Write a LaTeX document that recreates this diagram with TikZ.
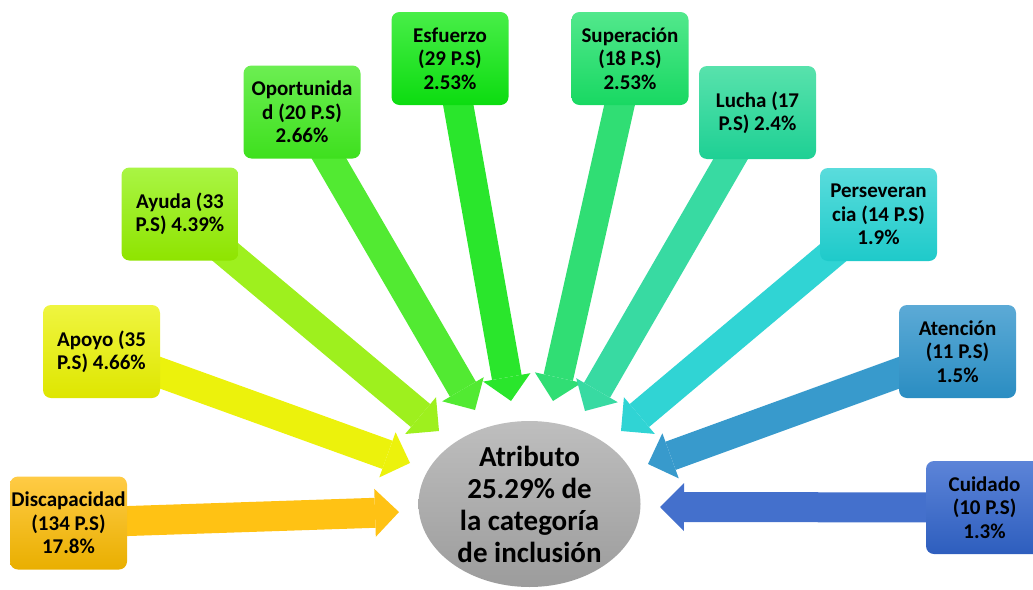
\documentclass[tikz,border=0pt]{standalone}
\usepackage{fontspec}
\setmainfont{Carlito}
\usetikzlibrary{shapes.geometric,arrows.meta,backgrounds}
\definecolor{discT}{HTML}{FFCB45}\definecolor{discB}{HTML}{E9AF00}\definecolor{discA}{HTML}{FFC214}
\definecolor{apoT}{HTML}{EFF540}\definecolor{apoB}{HTML}{DEE600}\definecolor{apoA}{HTML}{ECF20C}
\definecolor{ayuT}{HTML}{A9F544}\definecolor{ayuB}{HTML}{8FE400}\definecolor{ayuA}{HTML}{9EF01E}
\definecolor{opoT}{HTML}{6CEE52}\definecolor{opoB}{HTML}{3EE01E}\definecolor{opoA}{HTML}{52EA32}
\definecolor{esfT}{HTML}{48EE48}\definecolor{esfB}{HTML}{0CDC10}\definecolor{esfA}{HTML}{2AE62C}
\definecolor{supT}{HTML}{52E88C}\definecolor{supB}{HTML}{18D862}\definecolor{supA}{HTML}{30DE74}
\definecolor{lucT}{HTML}{58E2AC}\definecolor{lucB}{HTML}{1ED094}\definecolor{lucA}{HTML}{38DAA2}
\definecolor{perT}{HTML}{5ADCDC}\definecolor{perB}{HTML}{1ECACA}\definecolor{perA}{HTML}{30D4D4}
\definecolor{ateT}{HTML}{5CAAD6}\definecolor{ateB}{HTML}{2A8DC2}\definecolor{ateA}{HTML}{389ACC}
\definecolor{cuiT}{HTML}{5C84D8}\definecolor{cuiB}{HTML}{2E5EBE}\definecolor{cuiA}{HTML}{4470CC}
\definecolor{ellT}{HTML}{BEBEBE}\definecolor{ellB}{HTML}{9C9C9C}
\begin{document}
\begin{tikzpicture}[x=1pt,y=-1pt,
  box/.style={rounded corners=8pt, minimum width=117pt, minimum height=93pt, inner sep=0pt,
    align=center, font=\fontsize{21}{23.3}\selectfont\bfseries, text=black},
  barrow/.style={line width=30pt, -{Triangle[width=48pt,length=24pt,line width=0pt]}},
]
\clip (0,0) rectangle (1033,589);
\node[box, top color=discT, bottom color=discB] (disc) at (68.5,523) {Discapacidad\\(134 P.S)\\17.8\%};
\node[box, top color=apoT, bottom color=apoB] (apo) at (101.5,351.5) {Apoyo (35\\P.S) 4.66\%};
\node[box, top color=ayuT, bottom color=ayuB] (ayu) at (180,214) {Ayuda (33\\P.S) 4.39\%};
\node[box, top color=opoT, bottom color=opoB] (opo) at (302,112) {Oportunida\\d (20 P.S)\\2.66\%};
\node[box, top color=esfT, bottom color=esfB] (esf) at (450,58.5) {Esfuerzo\\(29 P.S)\\2.53\%};
\node[box, top color=supT, bottom color=supB] (sup) at (630,58.5) {Superación\\(18 P.S)\\2.53\%};
\node[box, top color=lucT, bottom color=lucB] (luc) at (757.5,112.5) {Lucha (17\\P.S) 2.4\%};
\node[box, top color=perT, bottom color=perB] (per) at (878.5,214.5) {Perseveran\\cia (14 P.S)\\1.9\%};
\node[box, top color=ateT, bottom color=ateB] (ate) at (957.5,351.5) {Atención\\(11 P.S)\\1.5\%};
\node[box, top color=cuiT, bottom color=cuiB] (cui) at (984.5,507.5) {Cuidado\\(10 P.S)\\1.3\%};
\node[ellipse, minimum width=222pt, minimum height=166pt, inner sep=0pt, top color=ellT, bottom color=ellB,
  align=center, font=\fontsize{29}{32}\selectfont\bfseries] (attr) at (529.5,504) {Atributo\\25.29\% de\\la categoría\\de inclusión};
\coordinate (tdisc) at (399,512);
\coordinate (tapo) at (410,463);
\coordinate (tayu) at (439,431);
\coordinate (topo) at (475,410);
\coordinate (tesf) at (511,401);
\coordinate (tsup) at (553,401);
\coordinate (tluc) at (585,411);
\coordinate (tper) at (621,431);
\coordinate (tate) at (648,464);
\coordinate (tcui) at (660,507);
\begin{pgfonlayer}{background}
\draw[barrow, color=discA] (disc.center) -- (tdisc);
\draw[barrow, color=apoA] (apo.center) -- (tapo);
\draw[barrow, color=ayuA] (ayu.center) -- (tayu);
\draw[barrow, color=opoA] (opo.center) -- (topo);
\draw[barrow, color=esfA] (esf.center) -- (tesf);
\draw[barrow, color=supA] (sup.center) -- (tsup);
\draw[barrow, color=lucA] (luc.center) -- (tluc);
\draw[barrow, color=perA] (per.center) -- (tper);
\draw[barrow, color=ateA] (ate.center) -- (tate);
\draw[barrow, color=cuiA] (cui.center) -- (tcui);
\end{pgfonlayer}
\end{tikzpicture}
\end{document}
